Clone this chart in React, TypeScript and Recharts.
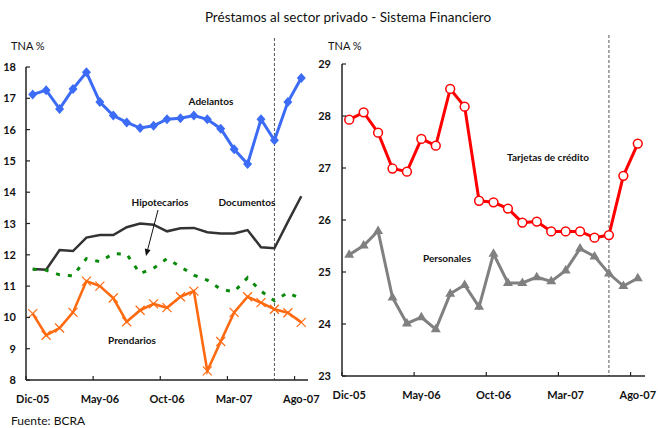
import React from 'react';
import { LineChart, Line, XAxis, YAxis, ReferenceLine } from 'recharts';

const months = [
  'Dic-05', 'Ene-06', 'Feb-06', 'Mar-06', 'Abr-06', 'May-06', 'Jun-06', 'Jul-06', 'Ago-06', 'Sep-06', 'Oct-06',
  'Nov-06', 'Dic-06', 'Ene-07', 'Feb-07', 'Mar-07', 'Abr-07', 'May-07', 'Jun-07', 'Jul-07', 'Ago-07',
];

// panel izquierdo
const adelantos = [17.12, 17.26, 16.66, 17.3, 17.83, 16.88, 16.45, 16.23, 16.05, 16.12, 16.33, 16.36, 16.45, 16.33, 16.03, 15.37, 14.9, 16.33, 15.66, 16.88, 17.65];
const documentos = [11.55, 11.52, 12.15, 12.12, 12.55, 12.63, 12.63, 12.88, 13.0, 12.96, 12.75, 12.85, 12.86, 12.72, 12.68, 12.68, 12.79, 12.24, 12.21, 13.05, 13.87];
const hipotecarios = [11.54, 11.51, 11.36, 11.33, 11.88, 11.78, 12.04, 12.02, 11.4, 11.57, 11.88, 11.62, 11.35, 11.19, 10.9, 10.82, 11.27, 10.84, 10.53, 10.79, 10.59];
const prendarios = [10.12, 9.43, 9.66, 10.16, 11.16, 11.0, 10.62, 9.86, 10.23, 10.43, 10.31, 10.66, 10.84, 8.29, 9.23, 10.16, 10.66, 10.47, 10.26, 10.15, 9.84];

// panel derecho
const tarjetas = [27.93, 28.07, 27.68, 26.99, 26.93, 27.56, 27.43, 28.52, 28.18, 26.37, 26.34, 26.22, 25.95, 25.97, 25.78, 25.78, 25.78, 25.66, 25.71, 26.85, 27.47];
const personales = [25.33, 25.51, 25.79, 24.51, 24.01, 24.13, 23.9, 24.58, 24.75, 24.33, 25.35, 24.79, 24.79, 24.9, 24.82, 25.03, 25.45, 25.3, 24.97, 24.73, 24.88];

const leftTicks = [8, 9, 10, 11, 12, 13, 14, 15, 16, 17, 18];
const rightTicks = [23, 24, 25, 26, 27, 28, 29];
const cutMonth = 'Jun-07';

const leftData = months.map((m, i) => ({
  m, adelantos: adelantos[i], documentos: documentos[i], hipotecarios: hipotecarios[i], prendarios: prendarios[i],
}));
const rightData = months.map((m, i) => ({ m, tarjetas: tarjetas[i], personales: personales[i] }));

const FONT = 'Lato, "Open Sans", sans-serif';
const AXIS = '#222';

const diamond = (color: string) => (p: any) => (
  <polygon key={p.index} points={`${p.cx},${p.cy - 5} ${p.cx + 4.5},${p.cy} ${p.cx},${p.cy + 5} ${p.cx - 4.5},${p.cy}`} fill={color} />
);
const cross = (color: string) => (p: any) => (
  <g key={p.index} stroke={color} strokeWidth={1.2}>
    <line x1={p.cx - 4.5} y1={p.cy - 4.5} x2={p.cx + 4.5} y2={p.cy + 4.5} />
    <line x1={p.cx - 4.5} y1={p.cy + 4.5} x2={p.cx + 4.5} y2={p.cy - 4.5} />
  </g>
);
const ring = (color: string) => (p: any) => (
  <circle key={p.index} cx={p.cx} cy={p.cy} r={4.4} fill="#fff" stroke={color} strokeWidth={1.5} />
);
const triangle = (color: string) => (p: any) => (
  <polygon key={p.index} points={`${p.cx},${p.cy - 5.5} ${p.cx + 5},${p.cy + 3} ${p.cx - 5},${p.cy + 3}`} fill={color} />
);

const xTick = (axisY: number, bw: number) => (p: any) => (
  <g>
    <line x1={p.x - bw / 2} y1={axisY} x2={p.x - bw / 2} y2={axisY - 4} stroke={AXIS} strokeWidth={1.2} />
    <text x={p.x} y={axisY + 23} textAnchor="middle" fontFamily={FONT} fontWeight={700} fontSize={11} fill="#111">
      {p.payload.value}
    </text>
  </g>
);
const yTick = (axisX: number, gap: number) => (p: any) => (
  <g>
    <line x1={axisX} y1={p.y} x2={axisX + 4} y2={p.y} stroke={AXIS} strokeWidth={1.2} />
    <text x={axisX - gap} y={p.y + 4} textAnchor="end" fontFamily={FONT} fontWeight={700} fontSize={11} fill="#111">
      {p.payload.value}
    </text>
  </g>
);
const tallDash = (p: any) => (
  <line x1={p.x1} y1={Math.min(p.y1, p.y2) - 29} x2={p.x2} y2={Math.max(p.y1, p.y2)} stroke="#555" strokeWidth={1} strokeDasharray="3 2" />
);

const lbl = { fontFamily: FONT, fontWeight: 700, fontSize: 10, fill: '#111' } as const;

export default function App() {
  return (
    <div style={{ position: 'absolute', left: 0, top: 0, width: 658, height: 428, background: '#fff' }}>
      <div style={{ position: 'absolute', left: 0, top: 0 }}>
        <LineChart width={320} height={428} data={leftData} margin={{ top: 67, right: 12, bottom: 18, left: 0 }}>
          <XAxis dataKey="m" scale="band" height={30} interval={4} tickLine={false}
            axisLine={{ stroke: AXIS, strokeWidth: 1.5 }} tick={xTick(380, 282 / 21)} />
          <YAxis width={26} domain={[8, 18]} ticks={leftTicks} tickLine={false}
            axisLine={{ stroke: AXIS, strokeWidth: 1.5 }} tick={yTick(26, 10)} />
          <ReferenceLine x={cutMonth} shape={tallDash} />
          <Line dataKey="documentos" stroke="#333" strokeWidth={2.5} dot={false} isAnimationActive={false} />
          <Line dataKey="hipotecarios" stroke="#0a8a0a" strokeWidth={3} strokeDasharray="4 8" dot={false} isAnimationActive={false} />
          <Line dataKey="prendarios" stroke="#ff6a10" strokeWidth={2.6} dot={cross('#ff6a10')} isAnimationActive={false} />
          <Line dataKey="adelantos" stroke="#3c6cf5" strokeWidth={3} dot={diamond('#3c6cf5')} isAnimationActive={false} />
        </LineChart>
      </div>
      <div style={{ position: 'absolute', left: 300, top: 0 }}>
        <LineChart width={358} height={428} data={rightData} margin={{ top: 64, right: 13, bottom: 22, left: 0 }}>
          <XAxis dataKey="m" scale="band" height={30} interval={4} tickLine={false}
            axisLine={{ stroke: AXIS, strokeWidth: 1.5 }} tick={xTick(376, 303 / 21)} />
          <YAxis width={42} domain={[23, 29]} ticks={rightTicks} tickLine={false}
            axisLine={{ stroke: AXIS, strokeWidth: 1.5 }} tick={yTick(42, 11)} />
          <ReferenceLine x={cutMonth} shape={tallDash} />
          <Line dataKey="personales" stroke="#808080" strokeWidth={3} dot={triangle('#808080')} isAnimationActive={false} />
          <Line dataKey="tarjetas" stroke="#ff0000" strokeWidth={3} dot={ring('#ff0000')} isAnimationActive={false} />
        </LineChart>
      </div>
      <svg width={658} height={428} style={{ position: 'absolute', left: 0, top: 0, pointerEvents: 'none' }}>
        <text x={348} y={22} textAnchor="middle" fontFamily={FONT} fontSize={13.5} fill="#111">
          Préstamos al sector privado - Sistema Financiero
        </text>
        <text x={11} y={50} fontFamily={FONT} fontSize={11} fill="#111">TNA %</text>
        <text x={328} y={50} fontFamily={FONT} fontSize={11} fill="#111">TNA %</text>
        <text x={211} y={105} textAnchor="middle" {...lbl}>Adelantos</text>
        <text x={160} y={206} textAnchor="middle" {...lbl}>Hipotecarios</text>
        <text x={247} y={206} textAnchor="middle" {...lbl}>Documentos</text>
        <text x={132} y={344} textAnchor="middle" {...lbl}>Prendarios</text>
        <text x={548} y={161} textAnchor="middle" {...lbl}>Tarjetas de crédito</text>
        <text x={447} y={262} textAnchor="middle" {...lbl}>Personales</text>
        <line x1={158} y1={210} x2={147.7} y2={249.5} stroke="#111" strokeWidth={1} />
        <polygon points="146,256 150.6,249.9 144.8,248.5" fill="#111" />
        <text x={11} y={425} fontFamily={FONT} fontSize={12} fill="#111">Fuente: BCRA</text>
      </svg>
    </div>
  );
}
